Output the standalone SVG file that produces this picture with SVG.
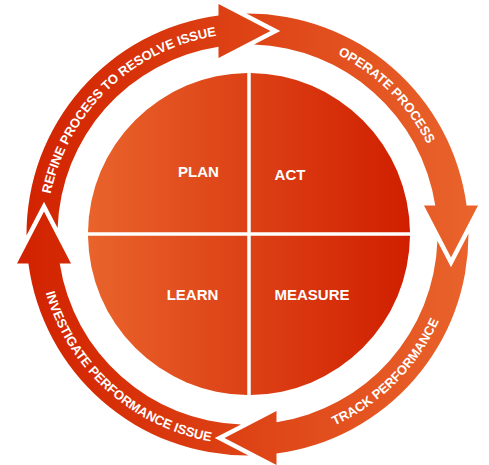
<svg xmlns="http://www.w3.org/2000/svg" width="489" height="465" viewBox="0 0 489 465">
  <defs>
    <linearGradient id="gCircle" gradientUnits="userSpaceOnUse" x1="88" y1="234" x2="410" y2="234">
      <stop offset="0" stop-color="#E9632B"/>
      <stop offset="1" stop-color="#D01F00"/>
    </linearGradient>
    <linearGradient id="gRing" gradientUnits="userSpaceOnUse" x1="-222" y1="0" x2="222" y2="0">
      <stop offset="0" stop-color="#D22300"/>
      <stop offset="1" stop-color="#E9632B"/>
    </linearGradient>
    <path id="pRefine" d="M -167.4,111.2 A 201 201 0 0 1 119.3,-161.8"/>
    <path id="pOperate" d="M -115.3,-164.7 A 201 201 0 0 1 164.7,115.3"/>
    <path id="pTrack" d="M -120.1,172.2 A 210 210 0 0 0 171.8,-120.8"/>
    <path id="pInvestigate" d="M -178.1,-111.3 A 210 210 0 0 0 129.3,165.5"/>
  </defs>
  <style>
    .quad { fill: url(#gCircle); }
    .qlabel { font-family: "Liberation Sans", Arial, sans-serif; font-weight: bold; font-size: 15px; fill: #FFFFFF; text-anchor: middle; }
    .arrow { fill: url(#gRing); }
    .alabel { font-family: "Liberation Sans", Arial, sans-serif; font-weight: bold; font-size: 13px; fill: #FFFFFF; text-anchor: middle; }
  </style>
  <rect width="489" height="465" fill="#FFFFFF"/>

  <g id="plan">
    <path class="quad" d="M 247.25,232.25 L 247.25,73.01 A 161 161 0 0 0 88.01,232.25 Z"/>
    <text class="qlabel" x="198.5" y="177">PLAN</text>
  </g>
  <g id="act">
    <path class="quad" d="M 250.75,232.25 L 250.75,73.01 A 161 161 0 0 1 409.99,232.25 Z"/>
    <text class="qlabel" x="290" y="180">ACT</text>
  </g>
  <g id="learn">
    <path class="quad" d="M 247.25,235.75 L 88.01,235.75 A 161 161 0 0 0 247.25,394.99 Z"/>
    <text class="qlabel" x="192.5" y="300">LEARN</text>
  </g>
  <g id="measure">
    <path class="quad" d="M 250.75,235.75 L 409.99,235.75 A 161 161 0 0 1 250.75,394.99 Z"/>
    <text class="qlabel" x="312" y="300">MEASURE</text>
  </g>

  <g id="connectors" transform="translate(247.5,234.5)">
    <g id="arrow-refine">
      <path class="arrow" d="M -189.89,-6.55 L -203.5,-32.77 L -221.0,0.93 A 221 221 0 0 1 -29,-219.09 L -29,-230.5 L 23,-203.5 L -29,-176.5 L -29,-187.77 A 190 190 0 0 0 -189.89,-6.55 Z"/>
      <text class="alabel"><textPath href="#pRefine" startOffset="50%">REFINE PROCESS TO RESOLVE ISSUE</textPath></text>
    </g>
    <g id="arrow-operate">
      <path class="arrow" d="M 6.55,-189.89 L 32.77,-203.5 L -0.93,-221.0 A 221 221 0 0 1 219.09,-29 L 230.5,-29 L 203.5,23 L 176.5,-29 L 187.77,-29 A 190 190 0 0 0 6.55,-189.89 Z"/>
      <text class="alabel"><textPath href="#pOperate" startOffset="50%">OPERATE PROCESS</textPath></text>
    </g>
    <g id="arrow-track">
      <path class="arrow" d="M 189.89,6.55 L 203.5,32.77 L 221.0,-0.93 A 221 221 0 0 1 29,219.09 L 29,230.5 L -23,203.5 L 29,176.5 L 29,187.77 A 190 190 0 0 0 189.89,6.55 Z"/>
      <text class="alabel"><textPath href="#pTrack" startOffset="50%">TRACK PERFORMANCE</textPath></text>
    </g>
    <g id="arrow-investigate">
      <path class="arrow" d="M -6.55,189.89 L -32.77,203.5 L 0.93,221.0 A 221 221 0 0 1 -219.09,29 L -230.5,29 L -203.5,-23 L -176.5,29 L -187.77,29 A 190 190 0 0 0 -6.55,189.89 Z"/>
      <text class="alabel"><textPath href="#pInvestigate" startOffset="50%">INVESTIGATE PERFORMANCE ISSUE</textPath></text>
    </g>
  </g>
</svg>
